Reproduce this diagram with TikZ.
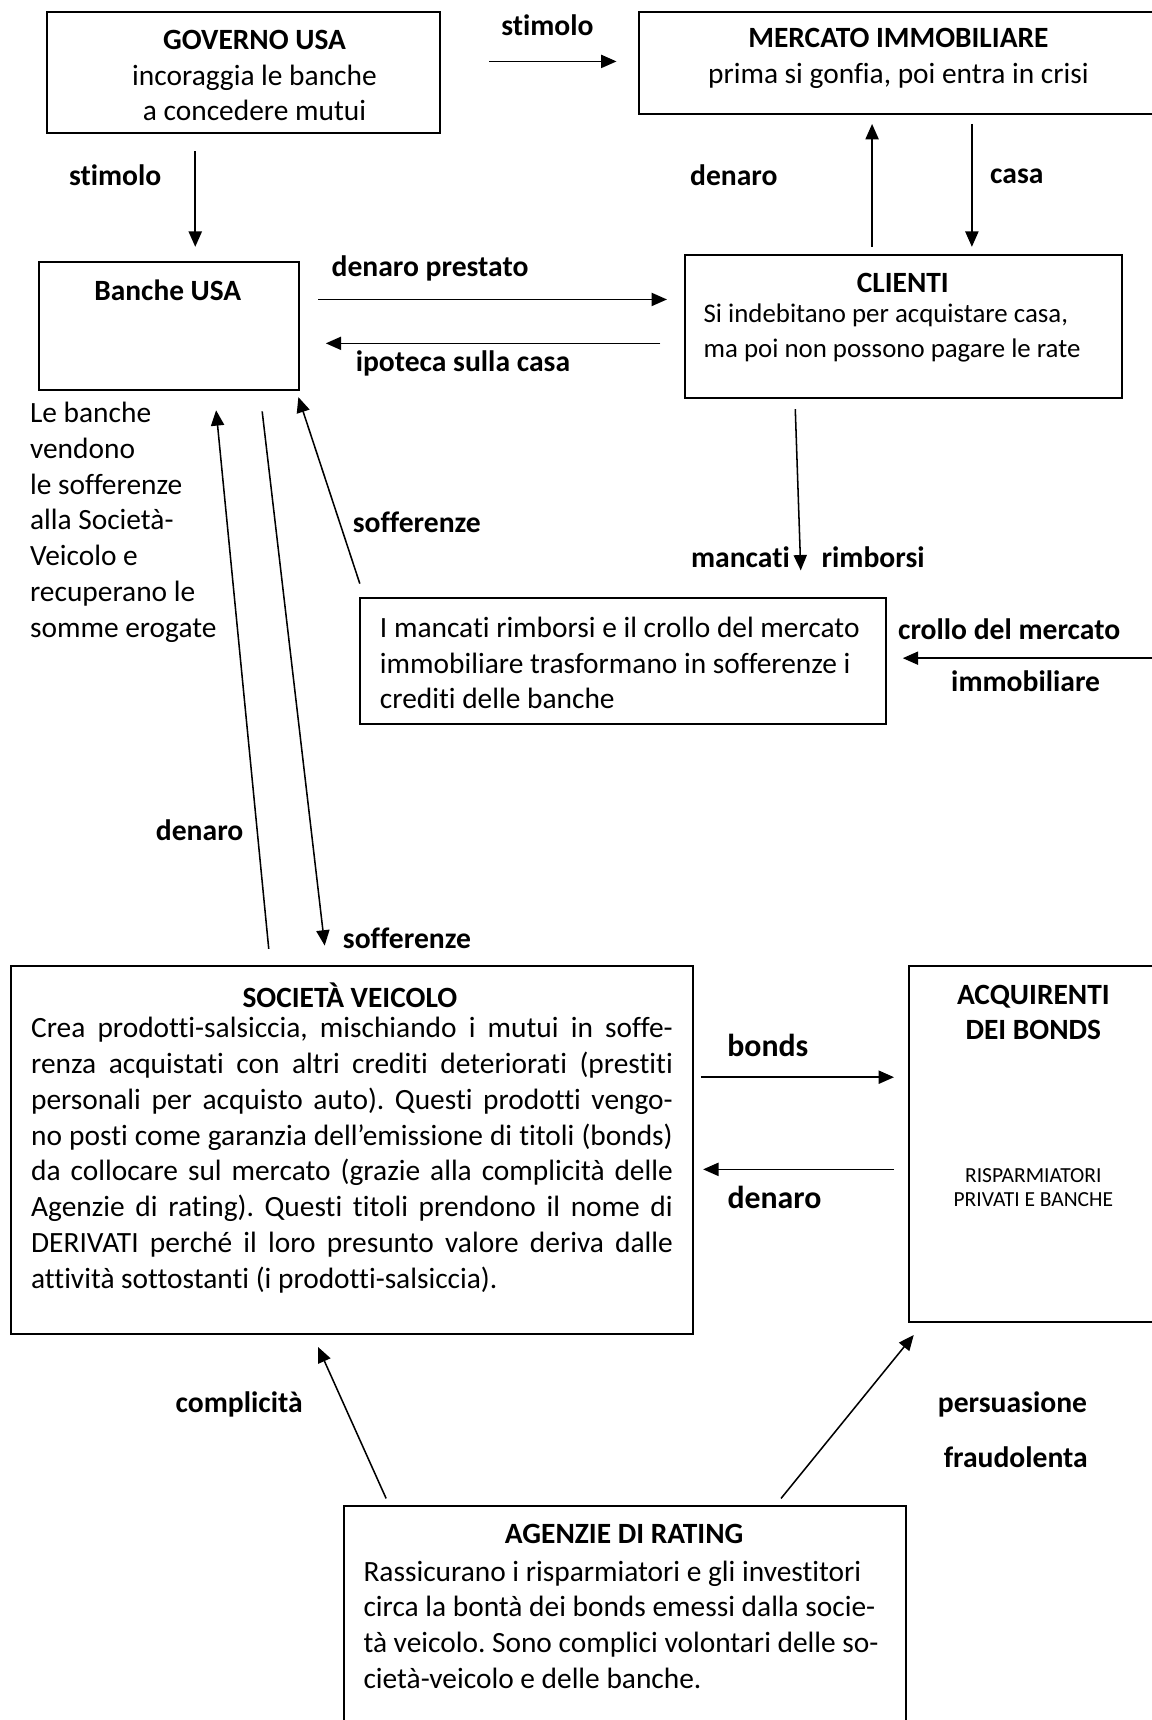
\documentclass[tikz,border=0pt]{standalone}
\usepackage{fontspec}
\setmainfont{Carlito}[Ligatures=NoCommon]
\usetikzlibrary{arrows.meta}
\newcommand\jl[1]{\hbox to 292.5pt{#1}}
\begin{document}
\frenchspacing
\begin{tikzpicture}[x=0.5pt,y=-0.5pt,
  box/.style={draw,line width=0.9pt,anchor=north west,inner sep=0pt},
  arr/.style={line width=0.7pt,-{Triangle[length=7pt,width=6pt]}},
  lbl/.style={font=\fontsize{13.5}{16}\selectfont\bfseries,inner sep=0pt},
  lblb/.style={font=\fontsize{14.5}{17}\selectfont\bfseries,inner sep=0pt},
  body/.style={font=\fontsize{13.4}{16.3}\selectfont,inner sep=0pt},
  bbody/.style={font=\fontsize{13.4}{16.3}\selectfont\bfseries,inner sep=0pt},
  small/.style={font=\fontsize{9.8}{11}\selectfont,inner sep=0pt,align=center}]
\useasboundingbox (0,0) rectangle (1050,1568);
\clip (0,0) rectangle (1050,1568);
\fill[white] (0,0) rectangle (1050,1568);

% boxes
\node[box,minimum width=179pt,minimum height=55pt] (gov) at (42,10) {};
\node[box,minimum width=239pt,minimum height=46.5pt] (merc) at (582,10) {};
\node[box,minimum width=118.5pt,minimum height=58.5pt] (banche) at (35,238) {};
\node[box,minimum width=199pt,minimum height=65pt] (clienti) at (624,232) {};
\node[box,minimum width=240pt,minimum height=57.5pt] (mid) at (327,544) {};
\node[box,minimum width=311pt,minimum height=167.5pt] (soc) at (9,880) {};
\node[box,minimum width=116pt,minimum height=162pt] (acq) at (828,880) {};
\node[box,minimum width=256pt,minimum height=104pt] (agz) at (313,1372) {};

% box texts
\node[body,align=center] (govt) at (232,69) {\textbf{GOVERNO USA}\\incoraggia le banche\\a concedere mutui};
\node[body,align=center] (merct) at (819,53) {\textbf{MERCATO IMMOBILIARE}\\prima si gonfia, poi entra in crisi};
\node[bbody] (banchet) at (153,265) {Banche USA};
\node[bbody] (clientit) at (823,258) {CLIENTI};
\node[body,font=\fontsize{12.25}{16.3}\selectfont,align=left,anchor=west] (clientib) at (641,303.5) {Si indebitano per acquistare casa,\\ma poi non possono pagare le rate};
\node[body,align=left,anchor=west] (midt) at (346,604.5) {I mancati rimborsi e il crollo del mercato\\immobiliare trasformano in sofferenze i\\crediti delle banche};
\node[body,align=left,anchor=west] (lebanche) at (27,476) {Le banche\\vendono\\le sofferenze\\alla Società-\\Veicolo e\\recuperano le\\somme erogate};
\node[bbody] (soct) at (319,907) {SOCIETÀ VEICOLO};
\node[body,anchor=west] (socb) at (28,1053) {\vbox{\baselineskip=16.3pt
\jl{Crea prodotti-salsiccia, mischiando i mutui in soffe-}
\jl{renza acquistati con altri crediti deteriorati (prestiti}
\jl{personali per acquisto auto). Questi prodotti vengo-}
\jl{no posti come garanzia dell’emissione di titoli (bonds)}
\jl{da collocare sul mercato (grazie alla complicità delle}
\jl{Agenzie di rating). Questi titoli prendono il nome di}
\jl{DERIVATI perché il loro presunto valore deriva dalle}
\hbox{attività sottostanti (i prodotti-salsiccia).}}};
\node[bbody,align=center] (acqt) at (942,923) {ACQUIRENTI\\DEI BONDS};
\node[small] (acqb) at (942,1083) {RISPARMIATORI\\PRIVATI E BANCHE};
\node[bbody] (agzt) at (569,1398) {AGENZIE DI RATING};
\node[body,align=left,anchor=west] (agzb) at (331,1481) {Rassicurano i risparmiatori e gli investitori\\circa la bontà dei bonds emessi dalla socie-\\tà veicolo. Sono complici volontari delle so-\\cietà-veicolo e delle banche.};

% connector labels
\node[lbl] (l1) at (499,23) {stimolo};
\node[lbl] (l2) at (105,160) {stimolo};
\node[lbl] (l3) at (669,160) {denaro};
\node[lbl] (l4) at (927,161) {casa};
\node[lbl] (l5) at (392,245) {denaro prestato};
\node[lbl] (l6) at (422,331) {ipoteca sulla casa};
\node[lbl] (l7) at (380,476) {sofferenze};
\node[lbl] (l8) at (182,757) {denaro};
\node[lbl] (l9) at (371,855) {sofferenze};
\node[lbl] (l10) at (675,508) {mancati};
\node[lbl] (l11) at (796,508) {rimborsi};
\node[lbl] (l12) at (920,574) {crollo del mercato};
\node[lbl] (l13) at (935,621) {immobiliare};
\node[lblb] (l14) at (700,953) {bonds};
\node[lblb] (l15) at (706,1092) {denaro};
\node[lbl] (l16) at (218,1280) {complicità};
\node[lbl] (l17) at (923,1280) {persuasione};
\node[lbl] (l18) at (926,1328) {fraudolenta};

% connector end points
\coordinate (s1a) at (446,56);   \coordinate (s1b) at (562,56);
\coordinate (s2a) at (178,138);  \coordinate (s2b) at (178,225);
\coordinate (d1a) at (795,225);  \coordinate (d1b) at (795,113);
\coordinate (c1a) at (886,113);  \coordinate (c1b) at (886,225);
\coordinate (dpa) at (290,273);  \coordinate (dpb) at (608,273);
\coordinate (ipa) at (602,313);  \coordinate (ipb) at (297,313);
\coordinate (dna) at (245,865);  \coordinate (dnb) at (197,374);
\coordinate (sfa) at (239,375);  \coordinate (sfb) at (296,862);
\coordinate (sga) at (328,532);  \coordinate (sgb) at (272,362);
\coordinate (mra) at (725,373);  \coordinate (mrb) at (730,520);
\coordinate (cma) at (1060,600); \coordinate (cmb) at (823,600);
\coordinate (bda) at (639,982);  \coordinate (bdb) at (815,982);
\coordinate (dea) at (815,1066); \coordinate (deb) at (641,1066);
\coordinate (cpa) at (352,1366); \coordinate (cpb) at (290,1228);
\coordinate (psa) at (712,1366); \coordinate (psb) at (833,1217);

\draw[arr] (s1a) -- (s1b);
\draw[arr] (s2a) -- (s2b);
\draw[arr] (d1a) -- (d1b);
\draw[arr] (c1a) -- (c1b);
\draw[arr] (dpa) -- (dpb);
\draw[arr] (ipa) -- (ipb);
\draw[arr] (dna) -- (dnb);
\draw[arr] (sfa) -- (sfb);
\draw[arr] (sga) -- (sgb);
\draw[arr] (mra) -- (mrb);
\draw[arr] (cma) -- (cmb);
\draw[arr] (bda) -- (bdb);
\draw[arr] (dea) -- (deb);
\draw[arr] (cpa) -- (cpb);
\draw[arr] (psa) -- (psb);
\end{tikzpicture}
\end{document}
